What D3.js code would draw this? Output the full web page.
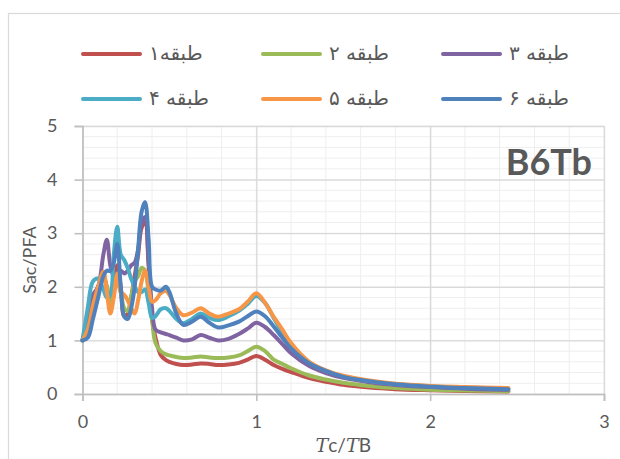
<html lang="fa">
<head>
  <meta charset="UTF-8"/>
  <title>B6Tb</title>
  <script src="https://d3js.org/d3.v7.min.js"></script>
  <style>
    body { margin: 0; background: #fff; }
    text { fill: #595959; }
  </style>
</head>
<body>
<svg id="chart" width="620" height="459"></svg>
<script>
// period ratio Tc/TB
const ratio = [0, 0.03, 0.06, 0.09, 0.12, 0.14, 0.16, 0.18, 0.2, 0.22,
  0.24, 0.26, 0.28, 0.3, 0.32, 0.34, 0.36, 0.38, 0.4, 0.42,
  0.45, 0.48, 0.5, 0.54, 0.58, 0.63, 0.68, 0.73, 0.78, 0.84,
  0.9, 0.95, 1.0, 1.05, 1.1, 1.15, 1.2, 1.3, 1.4, 1.5,
  1.65, 1.8, 2.0, 2.2, 2.45];

const floor1 = [1.0, 1.35, 1.7, 2.0, 2.2, 2.0, 1.75, 2.1, 2.4, 2.0,
  1.45, 1.5, 1.8, 2.2, 2.6, 3.1, 3.2, 2.4, 1.4, 1.05,
  0.73, 0.63, 0.6, 0.56, 0.54, 0.55, 0.57, 0.56, 0.54, 0.55,
  0.58, 0.64, 0.71, 0.64, 0.54, 0.47, 0.41, 0.3, 0.23, 0.17,
  0.12, 0.09, 0.07, 0.055, 0.045];
const floor2 = [1.0, 1.3, 1.65, 1.95, 2.15, 2.0, 1.7, 1.9, 2.1, 1.9,
  1.6, 1.55, 1.8, 2.1, 2.2, 2.35, 2.3, 1.9, 1.4, 0.95,
  0.8, 0.74, 0.72, 0.69, 0.67, 0.68, 0.7, 0.68, 0.67, 0.68,
  0.72, 0.8, 0.88, 0.8, 0.64, 0.56, 0.48, 0.35, 0.27, 0.21,
  0.15, 0.11, 0.08, 0.065, 0.05];
const floor3 = [1.0, 1.4, 1.85, 2.0, 2.6, 2.88, 2.4, 2.2, 2.25, 2.3,
  2.25, 2.3, 2.4, 2.45, 2.7, 3.2, 3.3, 2.5, 1.6, 1.2,
  1.15, 1.12, 1.1, 1.05, 1.0, 1.02, 1.1, 1.05, 1.0, 1.03,
  1.12, 1.22, 1.33, 1.25, 1.1, 0.93, 0.76, 0.53, 0.39, 0.3,
  0.22, 0.17, 0.13, 0.1, 0.08];
const floor4 = [1.0, 1.6, 2.1, 2.15, 1.95, 1.8, 1.85, 2.6, 3.12, 2.6,
  2.5, 2.35, 2.15, 2.0, 1.9, 1.9, 1.95, 1.7, 1.42, 1.45,
  1.58, 1.6, 1.55, 1.4, 1.32, 1.4, 1.5, 1.42, 1.38, 1.45,
  1.55, 1.68, 1.83, 1.7, 1.42, 1.15, 0.92, 0.6, 0.43, 0.33,
  0.24, 0.185, 0.145, 0.12, 0.1];
const floor5 = [1.0, 1.2, 1.65, 2.0, 2.28, 1.9, 1.5, 1.8, 2.25, 1.9,
  1.85, 1.75, 1.6, 1.5, 1.75, 2.1, 2.3, 2.0, 1.72, 1.75,
  1.88, 1.92, 1.85, 1.6, 1.47, 1.52, 1.6, 1.5, 1.44, 1.5,
  1.58, 1.72, 1.88, 1.7, 1.44, 1.2, 0.95, 0.61, 0.44, 0.34,
  0.25, 0.19, 0.15, 0.13, 0.11];
const floor6 = [1.0, 1.05, 1.4, 1.8, 2.2, 2.3, 2.3, 2.45, 2.8, 2.0,
  1.45, 1.4, 1.6, 2.0, 2.7, 3.4, 3.58, 2.9, 2.0, 1.95,
  1.93, 2.0, 1.9, 1.5, 1.29, 1.35, 1.44, 1.33, 1.24, 1.28,
  1.35, 1.45, 1.54, 1.45, 1.26, 1.05, 0.85, 0.58, 0.43, 0.32,
  0.24, 0.18, 0.135, 0.11, 0.09];

const seriesNames = ["طبقه۱", "طبقه ۲", "طبقه ۳", "طبقه ۴", "طبقه ۵", "طبقه ۶"];
const seriesColors = ["#C0504D", "#9BBB59", "#8064A2", "#4BACC6", "#F79646", "#4F81BD"];
const seriesValues = [floor1, floor2, floor3, floor4, floor5, floor6];

const xTicks = [0, 1, 2, 3];
const yTicks = [0, 1, 2, 3, 4, 5];

const svg = d3.select("#chart");

// outer chart frame
svg.append("rect")
  .attr("x", 8.5).attr("y", 13.5)
  .attr("width", 640).attr("height", 480)
  .attr("fill", "none")
  .attr("stroke", "#D9D9D9")
  .attr("stroke-width", 1.2);

const x = d3.scaleLinear().domain([0, 3]).range([82.5, 604]);
const y = d3.scaleLinear().domain([0, 5]).range([394, 126]);

// minor grid
const grid = svg.append("g");
grid.selectAll(".vmin")
  .data(d3.range(0, 3.001, 0.2))
  .join("line")
  .attr("x1", d => x(d)).attr("x2", d => x(d))
  .attr("y1", y(0)).attr("y2", y(5))
  .attr("stroke", "#EEEEEE").attr("stroke-width", 1);
grid.selectAll(".hmin")
  .data(d3.range(0, 5.001, 0.2))
  .join("line")
  .attr("x1", x(0)).attr("x2", x(3))
  .attr("y1", d => y(d)).attr("y2", d => y(d))
  .attr("stroke", "#EEEEEE").attr("stroke-width", 1);

// major grid
svg.append("g")
  .attr("transform", `translate(${x(0)},0)`)
  .call(d3.axisLeft(y).tickValues(yTicks).tickSize(-(x(3) - x(0))).tickFormat(""))
  .call(g => g.select(".domain").remove())
  .call(g => g.selectAll("line").attr("stroke", "#D9D9D9").attr("stroke-width", 1.3));
svg.append("g")
  .attr("transform", `translate(0,${y(0)})`)
  .call(d3.axisBottom(x).tickValues(xTicks).tickSize(-(y(0) - y(5))).tickFormat(""))
  .call(g => g.select(".domain").remove())
  .call(g => g.selectAll("line").attr("stroke", "#D9D9D9").attr("stroke-width", 1.3));

// axes
const yAxis = svg.append("g")
  .attr("transform", `translate(${x(0)},0)`)
  .call(d3.axisLeft(y).tickValues(yTicks).tickSize(8).tickPadding(17).tickFormat(d3.format("d")));
const xAxis = svg.append("g")
  .attr("transform", `translate(0,${y(0)})`)
  .call(d3.axisBottom(x).tickValues(xTicks).tickSize(7).tickPadding(14).tickFormat(d3.format("d")));
[yAxis, xAxis].forEach(a => {
  a.select(".domain").attr("stroke", "#BFBFBF").attr("stroke-width", 1.6);
  a.selectAll(".tick line").attr("stroke", "#BFBFBF").attr("stroke-width", 1.6);
  a.selectAll("text")
    .attr("fill", "#595959")
    .style("font-family", "Lato, sans-serif")
    .style("font-size", "18px");
});

// series
const line = d3.line()
  .x((d, i) => x(ratio[i]))
  .y(d => y(d))
  .curve(d3.curveCatmullRom.alpha(0.5));

svg.append("g")
  .selectAll("path")
  .data(seriesValues)
  .join("path")
  .attr("d", line)
  .attr("fill", "none")
  .attr("stroke", (d, i) => seriesColors[i])
  .attr("stroke-width", 4)
  .attr("stroke-linejoin", "round")
  .attr("stroke-linecap", "round");

// legend
const legend = svg.append("g");
const items = legend.selectAll("g")
  .data(seriesNames)
  .join("g")
  .attr("transform", (d, i) => `translate(${83 + (i % 3) * 180},${i < 3 ? 54 : 99})`);
items.append("line")
  .attr("x1", 0).attr("x2", 57)
  .attr("stroke", (d, i) => seriesColors[i])
  .attr("stroke-width", 4)
  .attr("stroke-linecap", "round");
items.append("text")
  .attr("x", 66).attr("y", 6)
  .style("font-family", "'DejaVu Sans', sans-serif")
  .style("font-size", "20px")
  .text(d => d);

// labels
svg.append("text")
  .attr("transform", `translate(36,${(y(0) + y(5)) / 2}) rotate(-90)`)
  .attr("text-anchor", "middle")
  .style("font-family", "Lato, sans-serif")
  .style("font-size", "18px")
  .text("Sac/PFA");

const xl = svg.append("text")
  .attr("x", x(1.5)).attr("y", 452)
  .attr("text-anchor", "middle")
  .style("font-size", "19px");
xl.append("tspan").style("font-family", "'DejaVu Serif', serif").style("font-style", "italic").text("T");
xl.append("tspan").style("font-family", "Lato, sans-serif").text("c/");
xl.append("tspan").style("font-family", "'DejaVu Serif', serif").style("font-style", "italic").text("T");
xl.append("tspan").style("font-family", "Lato, sans-serif").text("B");

svg.append("text")
  .attr("x", 592).attr("y", 175)
  .attr("text-anchor", "end")
  .style("font-family", "Lato, sans-serif")
  .style("font-weight", "bold")
  .style("font-size", "36px")
  .text("B6Tb");
</script>
</body>
</html>
